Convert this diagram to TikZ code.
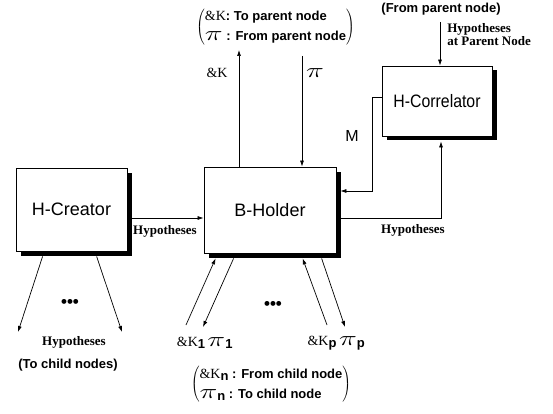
\documentclass[tikz,border=0pt]{standalone}
\usepackage{fontspec}
\setmainfont{Liberation Serif}
\setsansfont{Liberation Sans}
\usetikzlibrary{arrows.meta,calc}
\newcommand\pisym{{\mdseries\fontsize{21}{21}\selectfont\scalebox{1.45}[1]{$\pi$}}}
\newcommand\lamsym{{\rmfamily\mdseries\fontsize{14}{14}\selectfont\&K}}
\newcommand\subsf[1]{\raisebox{-2pt}{\sffamily\bfseries\fontsize{13}{13}\selectfont #1}}
\newcommand\pargroup[1]{{\delimiterfactor=850 \delimitershortfall=9pt
  $\left(\vcenter{\hbox{\sffamily\bfseries\fontsize{13}{20}\selectfont
  \begin{tabular}{@{}l@{}}#1\end{tabular}}}\right)$}}

\begin{document}
\begin{tikzpicture}[x=1pt,y=-1pt,>={Latex[length=6pt,width=4pt]},line width=.7pt,
  unitbox/.style={draw,fill=white,line width=.8pt,inner sep=0pt,
    font=\sffamily\fontsize{18}{18}\selectfont,
    preaction={fill=black,transform canvas={shift={(4.5pt,-4.5pt)}}}},
  hyp/.style={font=\bfseries\fontsize{13}{13}\selectfont},
  sflab/.style={font=\sffamily\bfseries\fontsize{13}{13}\selectfont},
  dots/.style={font=\sffamily\bfseries\fontsize{17}{17}\selectfont}]
\useasboundingbox (0,0) rectangle (553,414);

% the three units
\node[unitbox,minimum width=111pt,minimum height=83pt] (creator) at (71.5,209.5) {H-Creator};
\node[unitbox,minimum width=132pt,minimum height=86pt] (holder) at (270,210) {B-Holder};
\node[unitbox,minimum width=110pt,minimum height=70pt] (correl) at (437,101) {\scalebox{.88}[1]{H-Correlator}};

% hypotheses flow
\coordinate (hy) at (0,218);
\coordinate (cx) at (441,0);
\draw[->] (creator.east |- hy) -- (holder.west |- hy);
\node[hyp] at (165,231) {Hypotheses};
\draw[->] ($(holder.east |- hy)+(4,0)$) -| ($(correl.south -| cx)+(0,5)$);
\node[hyp] at (413,230) {Hypotheses};

% M back to the holder
\coordinate (mo) at (0,97);
\coordinate (mx) at (372,191);
\draw[->] (correl.west |- mo) -| (mx) -- ($(holder.east |- mx)+(4,0)$);
\node[font=\sffamily\fontsize{16}{16}\selectfont] at (352,136) {M};

% to and from the parent
\coordinate (kx) at (239,50);
\coordinate (px) at (302,56);
\draw[->] (holder.north -| kx) -- (kx);
\draw[->] (px) -- (holder.north -| px);
\node at (217,73) {\lamsym};
\node at (315,73) {\pisym};
\node[inner sep=0pt] (up) at (275.5,27) {\pargroup{\lamsym: To parent node\\ \pisym\ : From parent node}};

\node[sflab] at (441,9) {(From parent node)};
\coordinate (hx) at (440,22);
\draw[->] (hx) -- (correl.north -| hx);
\node[hyp,align=left,anchor=north west,inner sep=0pt] at (447,23) {Hypotheses\\at Parent Node};

% creator to child nodes
\coordinate (cl) at (18,332);
\coordinate (cr) at (122,332);
\draw[->] ($(creator.south west)+(27,5)$) -- (cl);
\draw[->] ($(creator.south west)+(81,5)$) -- (cr);
\node[dots] at (70,303) {\textbullet\textbullet\textbullet};
\node[hyp] at (74,342) {Hypotheses};
\node[sflab] at (68,365) {(To child nodes)};

% holder to and from child nodes
\coordinate (k1) at (186,325);
\coordinate (p1) at (203,327);
\coordinate (kp) at (327,325);
\coordinate (pp) at (345,327);
\draw[->] (k1) -- ($(holder.south west)+(12,5)$);
\draw[->] ($(holder.south west)+(30,5)$) -- (p1);
\draw[->] (kp) -- ($(holder.south west)+(99,5)$);
\draw[->] ($(holder.south west)+(118,5)$) -- (pp);
\node[dots] at (273,305) {\textbullet\textbullet\textbullet};
\node at (191,343) {\lamsym\subsf{1}};
\node at (220,343) {\pisym\subsf{1}};
\node at (322,343) {\lamsym\subsf{p}};
\node at (352,343) {\pisym\subsf{p}};
\node[inner sep=0pt] (down) at (271,384) {\pargroup{\lamsym\subsf{n} : From child node\\ \pisym\subsf{n} : To child node}};
\end{tikzpicture}
\end{document}
